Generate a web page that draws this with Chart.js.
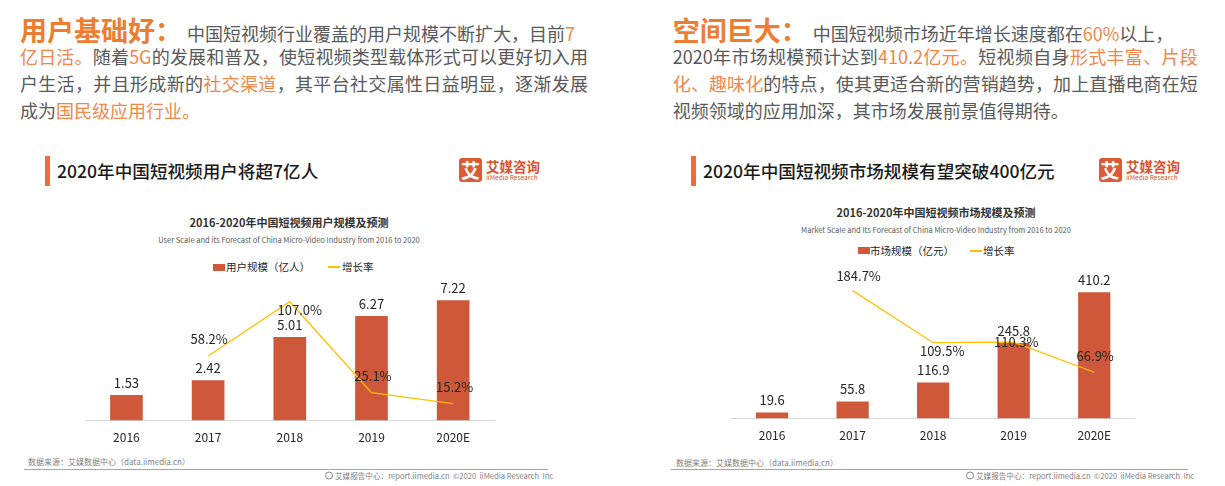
<!DOCTYPE html>
<html lang="zh-CN">
<head>
<meta charset="utf-8">
<title>中国短视频用户规模及市场规模</title>
<script src="https://cdn.jsdelivr.net/npm/chart.js@4.4.1/dist/chart.umd.min.js"></script>
<style>
  html, body { margin: 0; padding: 0; background: #fff; }
  body { width: 1225px; height: 486px; position: relative; overflow: hidden;
         font-family: "Noto Sans CJK SC", "Noto Sans", sans-serif; }
  .para { position: absolute; color: #595959; font-size: 18px; }
  .ln { height: 26.7px; line-height: 26.7px; white-space: nowrap; }
  .ln.j { text-align: justify; text-align-last: justify; }
  .hd { color: #ee7d31; font-weight: 700; font-size: 27px; margin-right: 5px; }
  .hl { color: #f0874a; }
  .sec { position: absolute; font-size: 17.6px; font-weight: 500; color: #1a1a1a; line-height: 1; white-space: nowrap; }
  .secbar { position: absolute; width: 5px; height: 30px; background: #f26b3a; }
  .logo { position: absolute; width: 23px; height: 24px; background: #dd5c37; border-radius: 3px;
          color: #fff; font-weight: 700; font-size: 19px; line-height: 24px; text-align: center; }
  .logo-cn { position: absolute; color: #d9532c; font-weight: 700; font-size: 13.5px; line-height: 1; }
  .logo-en { position: absolute; color: #d9532c; font-size: 6.6px; line-height: 1; }
  .ctitle { position: absolute; font-size: 11px; font-weight: 700; color: #333; transform: translate(-50%, -50%); white-space: nowrap; }
  .csub { position: absolute; font-size: 7.5px; color: #595959; transform: translate(-50%, -50%); white-space: nowrap; }
  .leg { position: absolute; font-size: 10.5px; color: #262626; line-height: 1; transform: translateY(-50%); white-space: nowrap; }
  .legbox { position: absolute; width: 12px; height: 7px; background: #d0583a; }
  .legline { position: absolute; width: 12px; height: 1.5px; background: #ffc000; }
  .src { position: absolute; font-size: 8px; color: #7f7f7f; transform: translateY(-50%); white-space: nowrap; }
  .rule { position: absolute; height: 1.5px; background: #a6a6a6; }
  .foot { position: absolute; font-size: 7.6px; color: #7f7f7f; transform: translateY(-50%); white-space: nowrap; }
  .foot i { display: inline-block; width: 6px; height: 6px; border: 1px solid #8a8a8a; border-radius: 50%;
            margin-right: 2px; vertical-align: -1px; }
  .chartbox { position: absolute; }
</style>
</head>
<body>

<!-- left text block -->
<div class="para" style="left:20px; top:16.6px; width:568px;">
  <div class="ln"><span class="hd">用户基础好：</span>中国短视频行业覆盖的用户规模不断扩大，目前<span class="hl">7</span></div>
  <div class="ln j"><span class="hl">亿日活。</span>随着<span class="hl">5G</span>的发展和普及，使短视频类型载体形式可以更好切入用</div>
  <div class="ln j">户生活，并且形成新的<span class="hl">社交渠道</span>，其平台社交属性日益明显，逐渐发展</div>
  <div class="ln">成为<span class="hl">国民级应用行业。</span></div>
</div>

<!-- right text block -->
<div class="para" style="left:672.8px; top:16.6px; width:525px;">
  <div class="ln"><span class="hd">空间巨大：</span>中国短视频市场近年增长速度都在<span class="hl">60%</span>以上，</div>
  <div class="ln j">2020年市场规模预计达到<span class="hl">410.2亿元。</span>短视频自身<span class="hl">形式丰富、片段</span></div>
  <div class="ln j"><span class="hl">化、趣味化</span>的特点，使其更适合新的营销趋势，加上直播电商在短</div>
  <div class="ln">视频领域的应用加深，其市场发展前景值得期待。</div>
</div>

<!-- section headers -->
<div class="secbar" style="left:44.5px; top:156px;"></div>
<div class="sec" style="left:57px; top:162px;">2020年中国短视频用户将超7亿人</div>
<div class="logo" style="left:459px; top:158px;">艾</div>
<div class="logo-cn" style="left:486px; top:160px;">艾媒咨询</div>
<div class="logo-en" style="left:486px; top:174px;">iiMedia Research</div>

<div class="secbar" style="left:691px; top:156px; width:4.5px;"></div>
<div class="sec" style="left:703px; top:162px;">2020年中国短视频市场规模有望突破400亿元</div>
<div class="logo" style="left:1098.5px; top:158px;">艾</div>
<div class="logo-cn" style="left:1126px; top:160px;">艾媒咨询</div>
<div class="logo-en" style="left:1126px; top:174px;">iiMedia Research</div>

<!-- chart titles -->
<div class="ctitle" style="left:289px; top:221.7px;">2016-2020年中国短视频用户规模及预测</div>
<div class="csub" style="left:289px; top:239px;">User Scale and its Forecast of China Micro-Video Industry from 2016 to 2020</div>
<div class="ctitle" style="left:936px; top:211.7px;">2016-2020年中国短视频市场规模及预测</div>
<div class="csub" style="left:936px; top:229.3px;">Market Scale and Its Forecast of China Micro-Video Industry from 2016 to 2020</div>

<!-- legends -->
<div class="legbox" style="left:213px; top:263.5px;"></div>
<div class="leg" style="left:226px; top:267px;">用户规模（亿人）</div>
<div class="legline" style="left:328px; top:266px;"></div>
<div class="leg" style="left:342px; top:267px;">增长率</div>

<div class="legbox" style="left:857.5px; top:247px;"></div>
<div class="leg" style="left:870px; top:250.7px;">市场规模（亿元）</div>
<div class="legline" style="left:969.5px; top:250px;"></div>
<div class="leg" style="left:983px; top:250.7px;">增长率</div>

<!-- charts -->
<div class="chartbox" style="left:76px; top:255px; width:428px; height:200px;"><canvas id="userChart"></canvas></div>
<div class="chartbox" style="left:722px; top:255px; width:422px; height:198px;"><canvas id="marketChart"></canvas></div>

<!-- sources / footers -->
<div class="src" style="left:28px; top:461px;">数据来源：艾媒数据中心（data.iimedia.cn）</div>
<div class="rule" style="left:24px; top:468.5px; width:524px;"></div>
<div class="foot" style="left:325px; top:475px;"><i></i>艾媒报告中心：report.iimedia.cn &nbsp;©2020 &nbsp;iiMedia Research &nbsp;Inc</div>

<div class="src" style="left:676px; top:462px;">数据来源：艾媒数据中心（data.iimedia.cn）</div>
<div class="rule" style="left:671px; top:468.5px; width:517px;"></div>
<div class="foot" style="left:966px; top:475px;"><i></i>艾媒报告中心：report.iimedia.cn &nbsp;©2020 &nbsp;iiMedia Research &nbsp;Inc</div>

<script>
// data
const years = ['2016', '2017', '2018', '2019', '2020E'];
const userScale = [1.53, 2.42, 5.01, 6.27, 7.22];          // 亿人
const userGrowth = [null, 58.2, 107.0, 25.1, 15.2];        // %
const marketScale = [19.6, 55.8, 116.9, 245.8, 410.2];     // 亿元
const marketGrowth = [null, 184.7, 109.5, 110.3, 66.9];    // %

const BAR_COLOR = '#d0583a';
const LINE_COLOR = '#ffc000';

Chart.defaults.font.family = '"Noto Sans CJK SC", "Noto Sans", sans-serif';
Chart.defaults.animation = false;

// draws the value labels next to every bar / line point
const valueLabels = {
    id: 'valueLabels',
    afterDatasetsDraw(chart, args, opts) {
        const ctx = chart.ctx;
        ctx.save();
        ctx.font = '13px "Noto Sans CJK SC", "Noto Sans", sans-serif';
        ctx.fillStyle = '#262626';
        ctx.textAlign = 'center';
        ctx.textBaseline = 'middle';
        chart.data.datasets.forEach((ds, i) => {
            const meta = chart.getDatasetMeta(i);
            const offs = opts.offsets[i];
            meta.data.forEach((el, j) => {
                const v = ds.data[j];
                if (v == null) return;
                const o = offs[j] || [0, -13];
                ctx.fillText(opts.format[i](v), el.x + o[0], el.y + o[1]);
            });
        });
        ctx.restore();
    }
};

function makeChart(id, bars, growth, barLabel, yMax, y1Max, padding, offsets, format) {
    return new Chart(document.getElementById(id), {
        type: 'bar',
        data: {
            labels: years,
            datasets: [
                {
                    label: barLabel,
                    data: bars,
                    backgroundColor: BAR_COLOR,
                    categoryPercentage: 1,
                    barPercentage: 0.4,
                    yAxisID: 'y',
                    order: 1
                },
                {
                    type: 'line',
                    label: '增长率',
                    data: growth,
                    borderColor: LINE_COLOR,
                    borderWidth: 1.3,
                    pointRadius: 0,
                    tension: 0,
                    yAxisID: 'y1',
                    order: 0
                }
            ]
        },
        options: {
            responsive: true,
            maintainAspectRatio: false,
            layout: { padding: padding },
            plugins: {
                legend: { display: false },
                tooltip: { enabled: false },
                valueLabels: { offsets: offsets, format: format }
            },
            scales: {
                x: {
                    grid: { display: false, drawTicks: false },
                    border: { display: true, color: '#d9d9d9', width: 1 },
                    ticks: { color: '#262626', font: { size: 12 }, padding: 10 }
                },
                y: { display: false, min: 0, max: yMax },
                y1: { display: false, min: 0, max: y1Max }
            }
        },
        plugins: [valueLabels]
    });
}

makeChart('userChart', userScale, userGrowth, '用户规模（亿人）', 9, 135,
    { left: 9.6, right: 10, top: 15.6, bottom: 0 },
    [
        [[0, -12.5], [0, -12.5], [0, -12.5], [0, -12.5], [0, -12.5]],
        [null, [1, -17], [10, 8], [1.5, -16.6], [1.5, -17]]
    ],
    [v => v.toFixed(2), v => v.toFixed(1) + '%']
);

makeChart('marketChart', marketScale, marketGrowth, '市场规模（亿元）', 450, 200,
    { left: 9.8, right: 9.5, top: 25, bottom: 0 },
    [
        [[0, -13], [0, -12.8], [0, -13], [0, -12], [0, -12]],
        [null, [6, -15], [9, 8], [2.5, 0], [1, -16.4]]
    ],
    [v => v.toFixed(1), v => v.toFixed(1) + '%']
);
</script>
</body>
</html>
